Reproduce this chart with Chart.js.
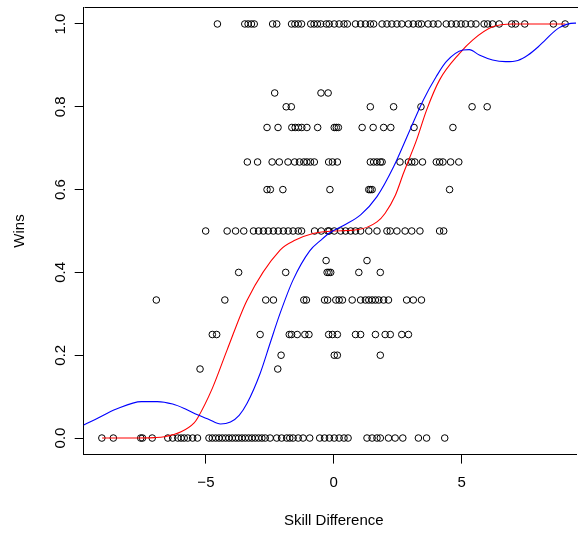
<!DOCTYPE html>
<html><head><meta charset="utf-8">
<script src="https://cdn.jsdelivr.net/npm/chart.js@4/dist/chart.umd.min.js"></script>
<style>html,body{margin:0;padding:0;background:#fff;overflow:hidden}canvas{display:block}</style>
</head><body>
<canvas id="c" width="581" height="533"></canvas>
<script>
// ---- axis ticks ----
const xTicks = [-5, 0, 5];
const xTickLabels = ['\u22125', '0', '5'];
const yTicks = [0, 0.2, 0.4, 0.6, 0.8, 1.0];
const yTickLabels = ['0.0', '0.2', '0.4', '0.6', '0.8', '1.0'];
const xTitle = 'Skill Difference';
const yTitle = 'Wins';

// ---- observed points: skill differences grouped by win fraction ----
const winLevels = [0, 1/6, 0.2, 0.25, 1/3, 0.4, 3/7, 0.5, 0.6, 2/3, 0.75, 0.8, 5/6, 1];
const skillW0 = [-9.07,-8.62,-7.55,-7.48,-7.10,-6.49,-6.30,-6.10,-5.97,-5.85,-5.71,-5.52,-5.33,-4.88,-4.75,-4.62,-4.49,-4.36,-4.23,-4.10,-3.97,-3.84,-3.72,-3.59,-3.46,-3.33,-3.20,-3.07,-2.94,-2.81,-2.68,-2.49,-2.23,-2.04,-1.84,-1.72,-1.59,-1.39,-1.20,-0.94,-0.55,-0.36,-0.17,0.02,0.21,0.40,0.56,1.30,1.50,1.69,1.82,2.14,2.40,2.70,3.31,3.63,4.34];
const skillW1_6 = [-5.23,-2.19];
const skillW02 = [-2.06,0.02,0.14,1.82];
const skillW025 = [-4.75,-4.58,-2.88,-1.74,-1.65,-1.43,-1.13,-0.97,-0.20,-0.05,0.14,0.85,1.05,1.63,2.01,2.21,2.66,2.92];
const skillW1_3 = [-6.94,-4.26,-2.66,-2.36,-1.17,-1.07,-0.36,-0.24,0.08,0.21,0.34,0.72,1.05,1.24,1.37,1.50,1.63,1.76,1.95,2.14,2.85,3.11,3.43];
const skillW04 = [-3.72,-1.88,-0.26,-0.19,-0.12,0.98,1.82];
const skillW3_7 = [-0.30,1.30];
const skillW05 = [-5.01,-4.17,-3.84,-3.52,-3.14,-2.94,-2.75,-2.56,-2.36,-2.17,-1.97,-1.78,-1.59,-1.39,-1.26,-0.75,-0.49,-0.23,-0.18,0.02,0.27,0.46,0.66,0.85,1.05,1.37,1.69,2.08,2.21,2.47,2.79,3.05,3.37,4.14,4.30];
const skillW06 = [-2.61,-2.48,-1.99,-0.15,1.37,1.43,1.50,4.53];
const skillW2_3 = [-3.38,-2.98,-2.41,-2.13,-1.79,-1.53,-1.34,-1.17,-1.05,-0.91,-0.76,-0.20,-0.05,0.14,1.43,1.56,1.69,1.82,1.89,2.59,2.92,3.05,3.17,3.47,4.01,4.14,4.27,4.57,4.89];
const skillW075 = [-2.61,-2.18,-1.64,-1.51,-1.38,-1.25,-1.05,-0.63,0.02,0.10,0.18,1.11,1.54,1.95,2.23,3.14,4.66];
const skillW08 = [-1.86,-1.66,1.43,2.34,3.41,5.41,6.00];
const skillW5_6 = [-2.31,-0.50,-0.22];
const skillW1 = [-4.55,-3.48,-3.35,-3.22,-3.11,-2.39,-2.23,-1.65,-1.52,-1.39,-1.26,-0.90,-0.77,-0.64,-0.51,-0.29,-0.18,0.02,0.21,0.40,0.53,0.85,1.05,1.24,1.43,1.56,1.89,2.08,2.27,2.47,2.66,2.92,3.11,3.31,3.43,3.69,3.89,4.08,4.40,4.60,4.79,4.98,5.15,5.37,5.56,5.88,6.02,6.21,6.47,6.96,7.11,7.47,8.59,9.05];

// ---- fitted curves ----
const redX = [-9.06,-8.0,-7.0,-6.63,-5.97,-5.47,-5.33,-4.75,-4.17,-3.39,-2.10,-1.50,-0.81,0.0,0.92,1.69,2.01,2.40,2.73,3.24,3.63,4.14,4.92,5.43,6.21,7.0,9.06];
const redY = [0.0,0.0,0.001,0.003,0.015,0.036,0.048,0.12,0.213,0.333,0.454,0.478,0.494,0.5,0.503,0.522,0.543,0.585,0.640,0.720,0.792,0.865,0.929,0.961,0.993,1.0,1.0];
const blueX = [-9.8,-9.33,-8.5,-7.52,-6.9,-6.30,-5.8,-5.33,-4.88,-4.43,-4.04,-3.7,-3.39,-2.88,-2.49,-2.10,-1.59,-0.94,-0.5,-0.17,0.40,1.05,1.69,2.34,2.98,3.50,4.01,4.40,5.05,5.3,5.69,6.21,6.72,7.2,7.6,8.0,8.27,8.79,9.43,9.8];
const blueY = [0.031,0.045,0.07,0.088,0.088,0.082,0.07,0.056,0.045,0.034,0.039,0.055,0.084,0.156,0.229,0.301,0.382,0.452,0.478,0.495,0.514,0.539,0.583,0.655,0.744,0.816,0.873,0.909,0.937,0.938,0.925,0.913,0.909,0.912,0.925,0.945,0.961,0.990,1.002,1.0];

const groups = [skillW0, skillW1_6, skillW02, skillW025, skillW1_3, skillW04, skillW3_7, skillW05, skillW06, skillW2_3, skillW075, skillW08, skillW5_6, skillW1];
const points = [];
groups.forEach((arr, i) => arr.forEach(v => points.push({x: v, y: winLevels[i]})));
const redPts = redX.map((v, i) => ({x: v, y: redY[i]}));
const bluePts = blueX.map((v, i) => ({x: v, y: blueY[i]}));

const FONT = '15px "Liberation Sans", Arial, Helvetica, sans-serif';

const textPlugin = {
  id: 'rtext',
  afterDraw(chart) {
    const ctx = chart.ctx, xs = chart.scales.x, ys = chart.scales.y, a = chart.chartArea;
    ctx.save();
    ctx.strokeStyle = '#000'; ctx.lineWidth = 1;
    ctx.beginPath();
    const ty = Math.round(a.top) + 0.5;
    ctx.moveTo(Math.round(a.left) + 0.5, ty); ctx.lineTo(a.right + 2, ty); ctx.stroke();
    ctx.font = FONT; ctx.fillStyle = '#000';
    ctx.textAlign = 'center'; ctx.textBaseline = 'middle';
    xTicks.forEach((v, i) => ctx.fillText(xTickLabels[i], xs.getPixelForValue(v), 483));
    yTicks.forEach((v, i) => {
      ctx.save(); ctx.translate(61, ys.getPixelForValue(v)); ctx.rotate(-Math.PI / 2);
      ctx.fillText(yTickLabels[i], 0, 0); ctx.restore();
    });
    ctx.fillText(xTitle, xs.getPixelForValue(0), 521);
    ctx.save(); ctx.translate(20, (a.top + a.bottom) / 2); ctx.rotate(-Math.PI / 2);
    ctx.fillText(yTitle, 0, 0); ctx.restore();
    ctx.restore();
  }
};

new Chart(document.getElementById('c'), {
  type: 'scatter',
  data: {
    datasets: [
      {data: points, pointStyle: 'circle', pointRadius: 3.3, pointBorderWidth: 1, borderColor: '#000', backgroundColor: 'rgba(0,0,0,0)', showLine: false, order: 3},
      {data: redPts, showLine: true, borderColor: '#ff0000', borderWidth: 1.1, pointRadius: 0, cubicInterpolationMode: 'monotone', fill: false, order: 2},
      {data: bluePts, showLine: true, borderColor: '#0000ff', borderWidth: 1.1, pointRadius: 0, cubicInterpolationMode: 'monotone', fill: false, order: 1}
    ]
  },
  options: {
    responsive: false, animation: false, devicePixelRatio: 1,
    layout: {padding: {top: 7.4, left: 0, right: 0, bottom: 0}},
    plugins: {legend: {display: false}, tooltip: {enabled: false}},
    scales: {
      x: {
        type: 'linear', min: -9.78, max: 9.474,
        afterBuildTicks: s => { s.ticks = xTicks.map(v => ({value: v})); },
        afterFit: s => { s.height = 78.4; },
        ticks: {display: false},
        grid: {drawOnChartArea: false, drawTicks: true, tickLength: 9, color: '#000', lineWidth: 1},
        border: {display: true, color: '#000', width: 1}
      },
      y: {
        type: 'linear', min: -0.04, max: 1.04,
        afterBuildTicks: s => { s.ticks = yTicks.map(v => ({value: v})); },
        afterFit: s => { s.width = 83.7; },
        ticks: {display: false},
        grid: {drawOnChartArea: false, drawTicks: true, tickLength: 9, color: '#000', lineWidth: 1},
        border: {display: true, color: '#000', width: 1}
      }
    }
  },
  plugins: [textPlugin]
});
</script>
</body></html>
